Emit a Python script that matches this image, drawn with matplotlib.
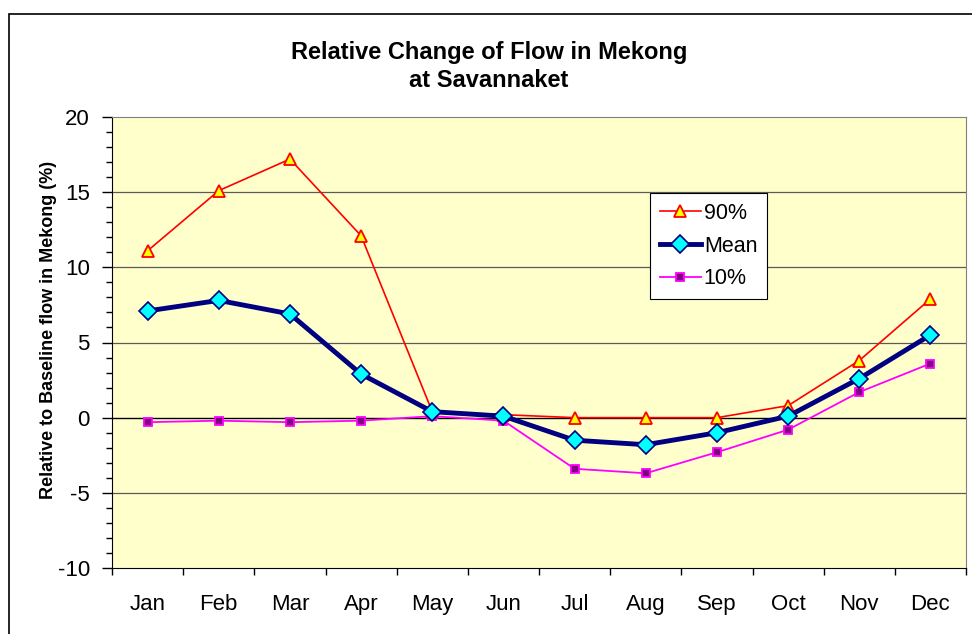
import matplotlib.pyplot as plt
from matplotlib.patches import Rectangle
from matplotlib.ticker import MultipleLocator

plt.rcParams['font.family'] = ['Liberation Sans', 'DejaVu Sans']
plt.rcParams['axes.unicode_minus'] = False

months = ["Jan", "Feb", "Mar", "Apr", "May", "Jun",
          "Jul", "Aug", "Sep", "Oct", "Nov", "Dec"]
p90 = [11.1, 15.1, 17.2, 12.1, 0.4, 0.2, 0.0, 0.0, 0.0, 0.8, 3.8, 7.9]
mean = [7.1, 7.8, 6.9, 2.9, 0.4, 0.1, -1.5, -1.8, -1.0, 0.1, 2.6, 5.5]
p10 = [-0.3, -0.2, -0.3, -0.2, 0.1, -0.2, -3.4, -3.7, -2.3, -0.8, 1.7, 3.6]

fig = plt.figure(figsize=(9.72, 6.34), dpi=100)
fig.patches.append(Rectangle((9 / 972, -0.01), 1.0, 1 - 14 / 634 + 0.01,
                             transform=fig.transFigure, fill=False,
                             edgecolor="black", linewidth=1.2))

ax = fig.add_axes([112 / 972, 66 / 634, 854 / 972, 451 / 634])
ax.set_facecolor("#ffffcc")
x = list(range(len(months)))

for y in (-5, 5, 10, 15):
    ax.axhline(y, color="#5a5a5a", linewidth=0.9, zorder=1)
ax.axhline(0, color="black", linewidth=1.0, zorder=1)

ax.plot(x, p90, color="red", linewidth=1.2, marker="^", markersize=8,
        markerfacecolor="yellow", markeredgecolor="red", markeredgewidth=1.3,
        label="90%", zorder=3)
ax.plot(x, mean, color="#000080", linewidth=3.5, marker="D", markersize=9,
        markerfacecolor="cyan", markeredgecolor="#000080", markeredgewidth=1.2,
        label="Mean", zorder=4)
ax.plot(x, p10, color="magenta", linewidth=1.3, marker="s", markersize=6,
        markerfacecolor="#800080", markeredgecolor="magenta", markeredgewidth=1.3,
        label="10%", zorder=3)

ax.set_xlim(-0.5, 11.5)
ax.set_ylim(-10, 20)
ax.set_xticks(x)
ax.set_xticklabels(months, fontsize=16)
ax.set_xticks([i - 0.5 for i in range(13)], minor=True)
ax.tick_params(axis="x", which="major", length=0, pad=19)
ax.tick_params(axis="x", which="minor", length=5, width=1)
ax.yaxis.set_major_locator(MultipleLocator(5))
ax.yaxis.set_minor_locator(MultipleLocator(1))
ax.tick_params(axis="y", which="major", length=7, width=1, labelsize=16, pad=9)
ax.tick_params(axis="y", which="minor", length=4, width=1)

for side in ("top", "right"):
    ax.spines[side].set_color("#808080")
for side in ("left", "bottom"):
    ax.spines[side].set_color("black")

ax.set_ylabel("Relative to Baseline flow in Mekong (%)", fontsize=13,
              fontweight="bold")
ax.yaxis.set_label_coords((57 - 112) / 854, (568 - 330) / 451)

fig.text(0.503, 0.895, "Relative Change of Flow in Mekong\nat Savannaket",
         ha="center", va="center", fontsize=17, fontweight="bold",
         linespacing=1.3)

leg = ax.legend(loc="upper left", bbox_to_anchor=((650 - 112) / 854, (568 - 193) / 451),
                fontsize=15.5, frameon=True, fancybox=False, framealpha=1,
                edgecolor="black", handlelength=1.9, borderpad=0.45,
                labelspacing=0.55, handletextpad=0.15, borderaxespad=0)
leg.get_frame().set_linewidth(0.8)

fig.savefig("out.png", dpi=100)
